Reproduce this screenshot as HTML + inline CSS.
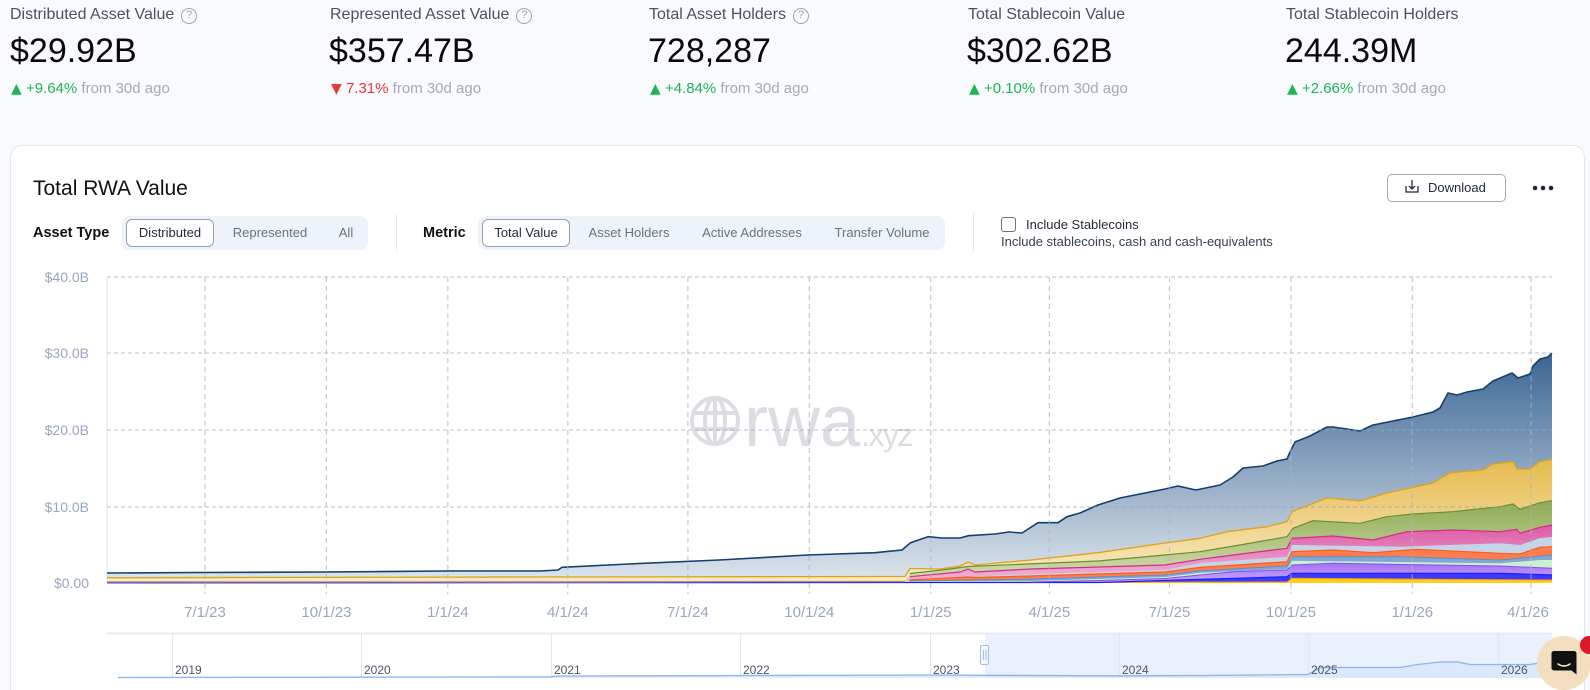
<!DOCTYPE html>
<html>
<head>
<meta charset="utf-8">
<style>
*{box-sizing:border-box}
html,body{margin:0;padding:0;width:1590px;height:690px;overflow:hidden;background:#f8fafd}
#wrap{position:relative;width:1590px;height:690px;overflow:hidden;background:#f8fafd;font-family:"Liberation Sans",sans-serif}
.a{position:absolute;white-space:nowrap}
.lbl{top:5px;font-size:16px;line-height:20px;color:#4a5261}
.val{top:31px;font-size:34px;line-height:40px;color:#0a0a0a}
.chg{top:79px;font-size:15px;line-height:20px;color:#a0aabb}
.up{color:#1fb552}
.dn{color:#e53935}
.tri{font-family:"DejaVu Sans",sans-serif;font-size:14px}
.q{display:inline-block;width:16px;height:16px;border:1.5px solid #9aa3b3;border-radius:50%;font-size:11px;line-height:13px;text-align:center;color:#9aa3b3;margin-left:7px;vertical-align:1px}
.seg{background:#eef2fa;border-radius:8px;height:34px;top:216px}
.pill{top:219px;height:28px;background:#fff;border:1px solid #96a0b5;border-radius:6px;font-size:13px;line-height:26px;text-align:center;color:#1e293b}
.opt{top:219px;height:28px;font-size:13px;line-height:28px;text-align:center;color:#6b7280}
.bl{font-size:14.5px;font-weight:bold;color:#111;top:224px;line-height:18px}
</style>
</head>
<body>
<div id="wrap">

<!-- Stats -->
<div class="a lbl" style="left:10px">Distributed Asset Value<span class="q">?</span></div>
<div class="a val" style="left:10px">$29.92B</div>
<div class="a chg" style="left:11px"><span class="up"><span class="tri">▲</span> +9.64%</span> from 30d ago</div>

<div class="a lbl" style="left:330px">Represented Asset Value<span class="q">?</span></div>
<div class="a val" style="left:329px">$357.47B</div>
<div class="a chg" style="left:331px"><span class="dn"><span class="tri">▼</span> 7.31%</span> from 30d ago</div>

<div class="a lbl" style="left:649px">Total Asset Holders<span class="q">?</span></div>
<div class="a val" style="left:648px">728,287</div>
<div class="a chg" style="left:650px"><span class="up"><span class="tri">▲</span> +4.84%</span> from 30d ago</div>

<div class="a lbl" style="left:968px">Total Stablecoin Value</div>
<div class="a val" style="left:967px">$302.62B</div>
<div class="a chg" style="left:969px"><span class="up"><span class="tri">▲</span> +0.10%</span> from 30d ago</div>

<div class="a lbl" style="left:1286px">Total Stablecoin Holders</div>
<div class="a val" style="left:1285px">244.39M</div>
<div class="a chg" style="left:1287px"><span class="up"><span class="tri">▲</span> +2.66%</span> from 30d ago</div>

<!-- Card -->
<div class="a" style="left:10px;top:145px;width:1575px;height:545px;background:#fff;border:1px solid #e2e8f0;border-bottom:none;border-radius:12px 12px 0 0"></div>

<div class="a" style="left:33px;top:176px;font-size:21px;line-height:26px;color:#111">Total RWA Value</div>

<div class="a" style="left:1387px;top:174px;width:119px;height:28px;border:1px solid #a3abb9;border-radius:5px;background:#fff"></div>
<div class="a" style="left:1428px;top:180px;font-size:13px;line-height:16px;color:#1f2937">Download</div>

<!-- controls -->
<div class="a bl" style="left:33px">Asset Type</div>
<div class="a seg" style="left:122px;width:246px"></div>
<div class="a pill" style="left:126px;width:88px">Distributed</div>
<div class="a opt" style="left:230px;width:80px">Represented</div>
<div class="a opt" style="left:326px;width:40px">All</div>

<div class="a" style="left:396px;top:214px;width:1px;height:37px;background:#e2e8f0"></div>

<div class="a bl" style="left:423px">Metric</div>
<div class="a seg" style="left:478px;width:467px"></div>
<div class="a pill" style="left:482px;width:88px">Total Value</div>
<div class="a opt" style="left:579px;width:100px">Asset Holders</div>
<div class="a opt" style="left:692px;width:120px">Active Addresses</div>
<div class="a opt" style="left:822px;width:120px">Transfer Volume</div>

<div class="a" style="left:973px;top:214px;width:1px;height:37px;background:#e2e8f0"></div>

<div class="a" style="left:1001px;top:217px;width:15px;height:15px;border:1.5px solid #6b7280;border-radius:3px;background:#fff"></div>
<div class="a" style="left:1026px;top:217px;font-size:13px;line-height:16px;color:#1f2937">Include Stablecoins</div>
<div class="a" style="left:1001px;top:234px;font-size:13px;line-height:16px;color:#374151">Include stablecoins, cash and cash-equivalents</div>

<svg class="a" style="left:0;top:0" width="1590" height="690" viewBox="0 0 1590 690" xmlns="http://www.w3.org/2000/svg">
<defs>
<linearGradient id="gT" gradientUnits="userSpaceOnUse" x1="0" y1="353" x2="0" y2="583"><stop offset="0" stop-color="#3a6593"/><stop offset="1" stop-color="#dfe6ee"/></linearGradient>
<linearGradient id="gY" gradientUnits="userSpaceOnUse" x1="0" y1="455" x2="0" y2="583"><stop offset="0" stop-color="#e6b84a"/><stop offset="1" stop-color="#f8ecc8"/></linearGradient>
<linearGradient id="gG" gradientUnits="userSpaceOnUse" x1="0" y1="500" x2="0" y2="583"><stop offset="0" stop-color="#8eaa52"/><stop offset="1" stop-color="#d5e0b5"/></linearGradient>
<linearGradient id="gP" gradientUnits="userSpaceOnUse" x1="0" y1="525" x2="0" y2="583"><stop offset="0" stop-color="#dc5aa6"/><stop offset="1" stop-color="#f0b8d8"/></linearGradient>
<linearGradient id="gPU" gradientUnits="userSpaceOnUse" x1="0" y1="563" x2="0" y2="583"><stop offset="0" stop-color="#a471f5"/><stop offset="1" stop-color="#c8abfa"/></linearGradient>
</defs>

<!-- download icon -->
<g fill="none" stroke="#1f2937" stroke-width="1.3">
<path d="M1406,186 v6 h12 v-6"/>
<path d="M1412,180 v9 M1409,186 l3,3 l3,-3"/>
</g>
<circle cx="1535" cy="188" r="2.3" fill="#1f2937"/>
<circle cx="1543" cy="188" r="2.3" fill="#1f2937"/>
<circle cx="1551" cy="188" r="2.3" fill="#1f2937"/>

<!-- watermark -->
<g stroke="#dcdde2" stroke-width="4" fill="none">
<circle cx="715" cy="421" r="23"/>
<ellipse cx="715" cy="421" rx="10" ry="23"/>
<line x1="715" y1="398" x2="715" y2="444"/>
<line x1="693" y1="413" x2="737" y2="413"/>
<line x1="693" y1="429" x2="737" y2="429"/>
</g>
<text x="744" y="446" font-family="Liberation Sans, sans-serif" font-size="72" fill="#dcdde2">rwa</text>
<text x="861" y="446" font-family="Liberation Sans, sans-serif" font-size="32" letter-spacing="-1.5" fill="#dcdde2">.xyz</text>

<!-- axis -->
<line x1="107" y1="277" x2="107" y2="583" stroke="#dfe5ef" stroke-width="1"/>

<!-- areas -->
<path fill="url(#gT)" d="M107,583 L107,573 200,572.5 325,572 446,571 540,571 558,570 562,567.3 629,564 719,560 808,555 875,552.7 902,550 910.5,542.7 928,536.7 942,538 960,538 968.6,535.7 995,534 1009,532 1022,533 1038,522.7 1058,522.7 1067,516.7 1080,513 1098,505 1120,498 1165,489 1178,486 1196,490 1220,485 1233,477 1243,468 1263,466 1277,461 1287,459 1290,452 1295,442 1310,436 1327,427 1333,427 1347,429 1360,431 1373,425 1393,421 1413,417 1433,412 1440,408 1448,393 1457,395 1467,392 1483,389 1493,381 1512,373 1518,378 1530,374 1533,366 1540,359 1548,357 1552,353 L1552,583 Z"/>
<path fill="url(#gY)" d="M107,583 L107,577.7 540,577 905,576.5 910,568.5 940,569 960,566 968,562 975,565 1031,560 1098,552.7 1165,543 1200,538.3 1227,531.7 1267,526.7 1287,521.7 1292,511.7 1327,498 1360,500.7 1387,493 1433,483 1450,472.7 1483,470 1493,464 1513,461.7 1517,469 1530,469 1540,461.7 1552,459.3 L1552,583 Z"/>
<path fill="url(#gG)" d="M107,583 L107,581 905,580.5 910,573.5 942,570 968,566.5 1098,561 1165,555 1200,551.7 1240,545 1287,536.7 1293,528.3 1313,520.7 1360,523.3 1387,516.7 1413,514 1453,511.7 1500,506.7 1513,504 1520,509.3 1540,502.7 1552,500.7 L1552,583 Z"/>
<path fill="url(#gP)" d="M107,583 L107,581.5 905,581 910,576.7 960,572 968,569 975,572 1031,569 1165,565 1200,559.3 1233,555 1287,548.3 1292,538.3 1333,536 1373,540 1407,531.7 1453,530 1500,531.7 1517,529.3 1520,533.3 1540,527.3 1552,525 L1552,583 Z"/>
<path fill="#c6d4e7" d="M107,583 L107,582 905,582 910,579 1031,574 1165,570 1200,563 1287,556.7 1292,545 1400,546.7 1500,543.3 1520,545 1540,538 1552,537 L1552,583 Z"/>
<path fill="#ff7d4c" d="M107,583 L107,582.3 905,582.3 910,579.8 960,577.5 968,577 975,577.5 1031,576 1165,572 1200,567.3 1287,561.7 1292,551.7 1333,550 1373,552.7 1417,549.3 1500,553.3 1520,554 1540,547.3 1552,546.7 L1552,583 Z"/>
<path fill="#7ea8d6" d="M107,583 L107,582.5 905,582.5 910,581 1031,579 1165,575 1200,570.7 1287,566 1292,556.7 1400,556.7 1500,560 1552,555 L1552,583 Z"/>
<path fill="#ccefcf" d="M107,583 L107,582.6 1031,581 1165,577 1200,572.7 1287,569 1292,560.7 1500,563.3 1540,560 1552,560 L1552,583 Z"/>
<path fill="url(#gPU)" d="M107,583 L107,582.7 1031,582 1100,580.5 1165,578.5 1200,575 1233,571.7 1287,570 1292,565 1333,563.3 1500,566 1552,568.3 L1552,583 Z"/>
<path fill="#3a3aff" d="M107,583 L107,582.8 1100,582.5 1200,579.3 1287,576.7 1292,573.3 1500,573.3 1552,575 L1552,583 Z"/>
<path fill="#ffcf1a" d="M107,583 L107,583 1287,582 1292,578.3 1552,580 L1552,583 Z"/>

<!-- strokes -->
<g fill="none" stroke-linejoin="round">
<polyline stroke="#ff9900" stroke-width="1" points="107,583 1287,582 1292,578.3 1552,580"/>
<polyline stroke="#1a1aff" stroke-width="1.2" points="107,582.8 1100,582.5 1200,579.3 1287,576.7 1292,573.3 1500,573.3 1552,575"/>
<polyline stroke="#8b4cf0" stroke-width="1" points="1031,582 1100,580.5 1165,578.5 1200,575 1233,571.7 1287,570 1292,565 1333,563.3 1500,566 1552,568.3"/>
<polyline stroke="#5f8fc5" stroke-width="1" points="910,581 1031,579 1165,575 1200,570.7 1287,566 1292,556.7 1400,556.7 1500,560 1552,555"/>
<polyline stroke="#ff5a1f" stroke-width="1.2" points="910,579.8 960,577.5 968,577 975,577.5 1031,576 1165,572 1200,567.3 1287,561.7 1292,551.7 1333,550 1373,552.7 1417,549.3 1500,553.3 1520,554 1540,547.3 1552,546.7"/>
<polyline stroke="#d22d86" stroke-width="1.2" points="910,576.7 960,572 968,569 975,572 1031,569 1165,565 1200,559.3 1233,555 1287,548.3 1292,538.3 1333,536 1373,540 1407,531.7 1453,530 1500,531.7 1517,529.3 1520,533.3 1540,527.3 1552,525"/>
<polyline stroke="#b98a6e" stroke-width="1.2" points="107,582 558,582 905,581.5"/>
<polyline stroke="#6b8f2e" stroke-width="1.2" points="910,573.5 942,570 968,566.5 1098,561 1165,555 1200,551.7 1240,545 1287,536.7 1293,528.3 1313,520.7 1360,523.3 1387,516.7 1413,514 1453,511.7 1500,506.7 1513,504 1520,509.3 1540,502.7 1552,500.7"/>
<polyline stroke="#dfa21c" stroke-width="1.3" points="107,577.7 540,577 905,576.5 910,568.5 940,569 960,566 968,562 975,565 1031,560 1098,552.7 1165,543 1200,538.3 1227,531.7 1267,526.7 1287,521.7 1292,511.7 1327,498 1360,500.7 1387,493 1433,483 1450,472.7 1483,470 1493,464 1513,461.7 1517,469 1530,469 1540,461.7 1552,459.3"/>
<polyline stroke="#163f6e" stroke-width="1.6" points="107,573 200,572.5 325,572 446,571 540,571 558,570 562,567.3 629,564 719,560 808,555 875,552.7 902,550 910.5,542.7 928,536.7 942,538 960,538 968.6,535.7 995,534 1009,532 1022,533 1038,522.7 1058,522.7 1067,516.7 1080,513 1098,505 1120,498 1165,489 1178,486 1196,490 1220,485 1233,477 1243,468 1263,466 1277,461 1287,459 1290,452 1295,442 1310,436 1327,427 1333,427 1347,429 1360,431 1373,425 1393,421 1413,417 1433,412 1440,408 1448,393 1457,395 1467,392 1483,389 1493,381 1512,373 1518,378 1530,374 1533,366 1540,359 1548,357 1552,353"/>
</g>

<!-- grid -->
<g stroke="#9aa6bf" stroke-opacity="0.75" stroke-width="1" stroke-dasharray="4,3" fill="none">
<line x1="107" y1="277" x2="1552" y2="277"/>
<line x1="107" y1="353" x2="1552" y2="353"/>
<line x1="107" y1="430" x2="1552" y2="430"/>
<line x1="107" y1="507" x2="1552" y2="507"/>
</g>
<g stroke="#a9b3c7" stroke-opacity="0.7" stroke-width="1.2" stroke-dasharray="5,4" fill="none">
<line x1="205" y1="277" x2="205" y2="594"/>
<line x1="326.4" y1="277" x2="326.4" y2="594"/>
<line x1="447.8" y1="277" x2="447.8" y2="594"/>
<line x1="567.8" y1="277" x2="567.8" y2="594"/>
<line x1="687.9" y1="277" x2="687.9" y2="594"/>
<line x1="809.3" y1="277" x2="809.3" y2="594"/>
<line x1="930.7" y1="277" x2="930.7" y2="594"/>
<line x1="1049.4" y1="277" x2="1049.4" y2="594"/>
<line x1="1169.5" y1="277" x2="1169.5" y2="594"/>
<line x1="1290.9" y1="277" x2="1290.9" y2="594"/>
<line x1="1412.3" y1="277" x2="1412.3" y2="594"/>
<line x1="1531" y1="277" x2="1531" y2="594"/>
</g>

<!-- y labels -->
<g font-family="Liberation Sans, sans-serif" font-size="14" fill="#9aa6bf" text-anchor="end">
<text x="89" y="282">$40.0B</text>
<text x="89" y="358">$30.0B</text>
<text x="89" y="435">$20.0B</text>
<text x="89" y="512">$10.0B</text>
<text x="89" y="588">$0.00</text>
</g>
<!-- x labels -->
<g font-family="Liberation Sans, sans-serif" font-size="15" fill="#9aa6bf" text-anchor="middle">
<text x="205" y="617">7/1/23</text>
<text x="326.4" y="617">10/1/23</text>
<text x="447.8" y="617">1/1/24</text>
<text x="567.8" y="617">4/1/24</text>
<text x="687.9" y="617">7/1/24</text>
<text x="809.3" y="617">10/1/24</text>
<text x="930.7" y="617">1/1/25</text>
<text x="1049.4" y="617">4/1/25</text>
<text x="1169.5" y="617">7/1/25</text>
<text x="1290.9" y="617">10/1/25</text>
<text x="1412.3" y="617">1/1/26</text>
<text x="1528" y="617">4/1/26</text>
</g>

<!-- minimap -->
<rect x="985" y="634" width="567" height="44" fill="#eaf1fd"/>
<line x1="107" y1="633.5" x2="1552" y2="633.5" stroke="#e6ecf5" stroke-width="2"/>
<g stroke="#e3e6ec" stroke-width="1">
<line x1="172.5" y1="634" x2="172.5" y2="678"/>
<line x1="361.5" y1="634" x2="361.5" y2="678"/>
<line x1="551.5" y1="634" x2="551.5" y2="678"/>
<line x1="740.5" y1="634" x2="740.5" y2="678"/>
<line x1="930.5" y1="634" x2="930.5" y2="678"/>
<line x1="1119.5" y1="634" x2="1119.5" y2="678"/>
<line x1="1308.5" y1="634" x2="1308.5" y2="678"/>
<line x1="1498.5" y1="634" x2="1498.5" y2="678"/>
</g>
<path d="M118,678 L118,677.5 360,677.2 550,676.8 560,676 740,675.5 930,675 985,675.3 1119,675.8 1200,675.5 1308,674.5 1320,667.5 1400,667.5 1418,664.5 1440,662 1458,662 1470,664.5 1530,664.5 1545,662 1552,660 L1552,678 Z" fill="#d6e4fb" fill-opacity="0.7"/>
<polyline fill="none" stroke="#8ab4f0" stroke-width="1.3" points="118,677.5 360,677.2 550,676.8 560,676 740,675.5 930,675 985,675.3 1119,675.8 1200,675.5 1308,674.5 1320,667.5 1400,667.5 1418,664.5 1440,662 1458,662 1470,664.5 1530,664.5 1545,662 1552,660"/>
<g font-family="Liberation Sans, sans-serif" font-size="12" fill="#4b5563">
<text x="175" y="674">2019</text>
<text x="364" y="674">2020</text>
<text x="554" y="674">2021</text>
<text x="743" y="674">2022</text>
<text x="933" y="674">2023</text>
<text x="1122" y="674">2024</text>
<text x="1311" y="674">2025</text>
<text x="1501" y="674">2026</text>
</g>
<rect x="980.5" y="645.5" width="8" height="19" rx="1.5" fill="#f3f7ff" stroke="#9dbdf0" stroke-width="1"/>
<line x1="983.5" y1="650" x2="983.5" y2="660" stroke="#9dbdf0"/>
<line x1="986" y1="650" x2="986" y2="660" stroke="#9dbdf0"/>

<!-- chat bubble -->
<circle cx="1564" cy="663" r="27" fill="#f3dfbf"/>
<path d="M1554,651 h20 a2.5,2.5 0 0 1 2.5,2.5 v21 l-5,-4 h-17.5 a2.5,2.5 0 0 1 -2.5,-2.5 v-14.5 a2.5,2.5 0 0 1 2.5,-2.5 Z" fill="#111"/>
<path d="M1558,664 q6,4 12,0" fill="none" stroke="#f3dfbf" stroke-width="1.6" stroke-linecap="round"/>
<circle cx="1589" cy="645" r="9" fill="#e0162b"/>
</svg>

</div>
</body>
</html>
